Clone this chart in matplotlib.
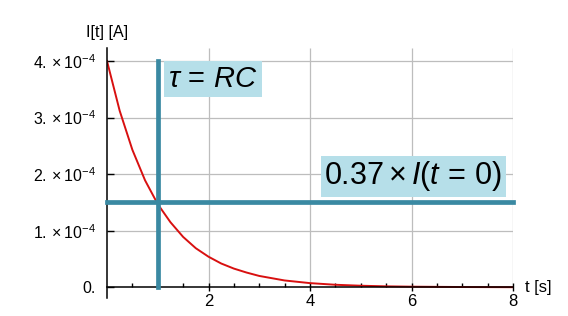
import matplotlib
matplotlib.use('Agg')
import matplotlib.pyplot as plt
from matplotlib.ticker import FixedLocator, FixedFormatter

plt.rcParams['font.family'] = ['Liberation Sans', 'DejaVu Sans']
plt.rcParams['mathtext.fontset'] = 'custom'
plt.rcParams['mathtext.rm'] = 'Liberation Sans'
plt.rcParams['mathtext.it'] = 'Liberation Sans:italic'

# current decay (t in s, I in A)
t_vals = [0, 0.25, 0.5, 0.75, 1.0, 1.25, 1.5, 1.75, 2.0, 2.25, 2.5, 2.75,
          3.0, 3.5, 4.0, 4.5, 5.0, 5.5, 6.0, 7.0, 8.0]
i_vals = [4.00e-4, 3.12e-4, 2.43e-4, 1.89e-4, 1.47e-4, 1.15e-4, 0.89e-4,
          0.69e-4, 0.54e-4, 0.42e-4, 0.33e-4, 0.26e-4, 0.20e-4, 0.12e-4,
          0.073e-4, 0.044e-4, 0.027e-4, 0.016e-4, 0.010e-4, 0.004e-4,
          0.001e-4]

tau = 1.0
i_start = 4.0e-4
i_tau = 1.5e-4

x_major = [2, 4, 6, 8]
x_minor = [0.5, 1, 1.5, 2.5, 3, 3.5, 4.5, 5, 5.5, 6.5, 7, 7.5]
y_ticks = [0, 1e-4, 2e-4, 3e-4, 4e-4]
y_labels = ['0.', r'$1.\times10^{-4}$', r'$2.\times10^{-4}$',
            r'$3.\times10^{-4}$', r'$4.\times10^{-4}$']

blue = '#3a89a2'
box_fill = '#b6dfe9'

fig = plt.figure(figsize=(5.68, 3.16), dpi=100)
ax = fig.add_axes([107 / 568, 18 / 316, 406 / 568, 250 / 316])
ax.set_xlim(0, 8)
ax.set_ylim(-0.19e-4, 4.23e-4)

# grid
ax.vlines(x_major, 0, ax.get_ylim()[1], color='#bdbdbd', lw=0.9, zorder=0)
for y in y_ticks[1:]:
    ax.axhline(y, color='#bdbdbd', lw=0.9, zorder=0)

ax.plot(t_vals, i_vals, color='#d81010', lw=1.4, zorder=2)

ax.plot([0, 8], [i_tau, i_tau], color=blue, lw=3.4,
        solid_capstyle='projecting', clip_on=False, zorder=3)
ax.plot([tau, tau], [0, i_start], color=blue, lw=3.4,
        solid_capstyle='projecting', clip_on=False, zorder=3)

ax.text(2.09, 3.68e-4, r'$\tau\,=\,RC$', fontsize=21, ha='center',
        va='center', zorder=4,
        bbox=dict(boxstyle='square,pad=0.13', fc=box_fill, ec='none'))
ax.text(6.04, 1.96e-4, r'$0.37\times I(t\,=\,0)$', fontsize=22,
        ha='center', va='center', zorder=4,
        bbox=dict(boxstyle='square,pad=0.12', fc=box_fill, ec='none'))

for s in ['top', 'right']:
    ax.spines[s].set_visible(False)
ax.spines['bottom'].set_position(('data', 0))
ax.spines['left'].set_linewidth(1.1)
ax.spines['bottom'].set_linewidth(1.1)

ax.xaxis.set_major_locator(FixedLocator(x_major))
ax.xaxis.set_minor_locator(FixedLocator(x_minor))
ax.yaxis.set_major_locator(FixedLocator(y_ticks))
ax.yaxis.set_major_formatter(FixedFormatter(y_labels))
ax.tick_params(axis='x', which='major', direction='inout', length=6,
               width=1, labelsize=12, pad=2)
ax.tick_params(axis='x', which='minor', direction='in', length=3, width=1)
ax.tick_params(axis='y', direction='in', length=5, width=1,
               labelsize=11.5, pad=8)

ax.annotate('I[t] [A]', xy=(0, 1), xycoords='axes fraction',
            xytext=(0, 15), textcoords='offset pixels', ha='center',
            va='center', fontsize=11.5)
ax.annotate('t [s]', xy=(1, 0), xycoords=('axes fraction', 'data'),
            xytext=(12, 0), textcoords='offset pixels', ha='left',
            va='center', fontsize=12)

fig.savefig('out.png', dpi=100)
